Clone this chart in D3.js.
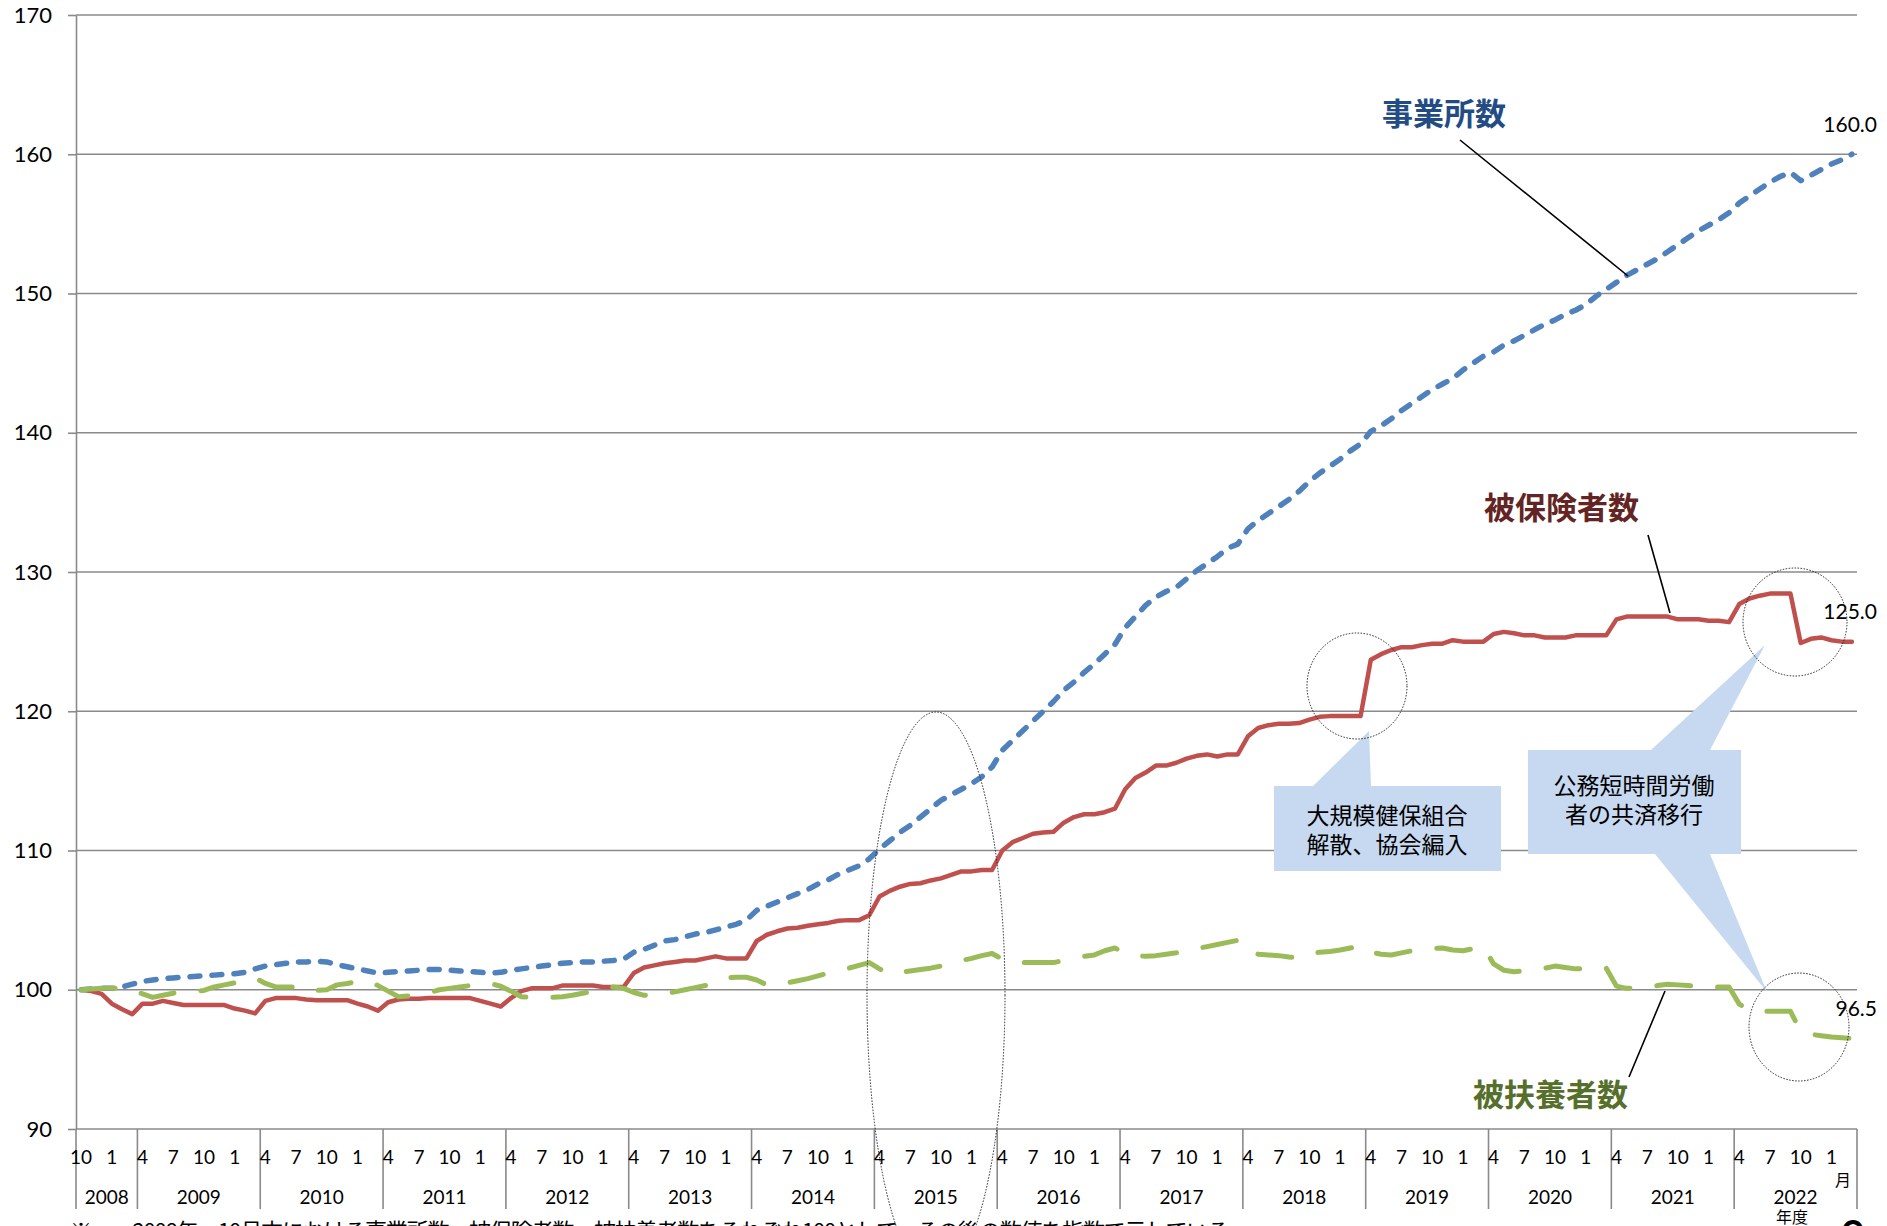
<!DOCTYPE html>
<html lang="ja">
<head>
<meta charset="utf-8">
<script src="https://cdn.jsdelivr.net/npm/d3@7"></script>
<style>
  body { margin: 0; background: #fff; }
  svg { display: block; }
</style>
</head>
<body>
<svg id="chart" width="1887" height="1226"></svg>
<script>
// fiscal year blocks on the category axis (FY2008 starts in October)
const fiscalYears = ['2008', '2009', '2010', '2011', '2012', '2013', '2014', '2015',
  '2016', '2017', '2018', '2019', '2020', '2021', '2022'];
const monthsPerYear = [6, 12, 12, 12, 12, 12, 12, 12, 12, 12, 12, 12, 12, 12, 12];
const labelMonths = [10, 1, 4, 7];
const yTicks = [90, 100, 110, 120, 130, 140, 150, 160, 170];

// index, 2008年10月末 = 100
const establishments = [
  100.0, 100.05, 100.1, 100.1, 100.2, 100.4,
  100.6, 100.7, 100.8, 100.85, 100.9, 100.95, 101.0, 101.05, 101.1, 101.15, 101.25, 101.5,
  101.7, 101.8, 101.9, 102.0, 102.0, 102.05, 102.0, 101.8, 101.65, 101.5, 101.35, 101.2,
  101.25, 101.3, 101.35, 101.4, 101.45, 101.45, 101.4, 101.35, 101.3, 101.25, 101.2, 101.25,
  101.4, 101.5, 101.6, 101.7, 101.8, 101.9, 101.95, 102.0, 102.0, 102.05, 102.1, 102.2,
  102.7, 102.9, 103.2, 103.5, 103.6, 103.8, 104.0, 104.1, 104.3, 104.5, 104.7, 105.0,
  105.7, 106.0, 106.3, 106.6, 106.9, 107.2, 107.6, 107.9, 108.3, 108.6, 108.9, 109.4,
  110.1, 110.7, 111.3, 111.8, 112.4, 113.0, 113.6, 114.0, 114.4, 114.8, 115.3, 116.0,
  117.2, 117.9, 118.6, 119.3, 120.0, 120.7, 121.5, 122.1, 122.8, 123.4, 124.1, 124.8,
  126.0, 126.8, 127.6, 128.2, 128.6, 128.9, 129.5, 130.1, 130.6, 131.1, 131.7, 132.0,
  133.1, 133.7, 134.2, 134.7, 135.2, 135.8, 136.5, 137.1, 137.6, 138.1, 138.7, 139.2,
  140.1, 140.5, 141.0, 141.6, 142.1, 142.6, 143.1, 143.5, 143.9, 144.5, 145.0, 145.5,
  145.8, 146.3, 146.6, 147.0, 147.4, 147.8, 148.1, 148.5, 148.8, 149.2, 149.8, 150.3,
  150.8, 151.3, 151.7, 152.1, 152.5, 153.0, 153.5, 154.0, 154.5, 154.9, 155.3, 155.8,
  156.5, 157.0, 157.5, 158.0, 158.4, 158.7, 158.1, 158.5, 158.9, 159.3, 159.6, 160.0
];
const insured = [
  100.0, 99.9, 99.7, 99.0, 98.6, 98.25,
  99.0, 99.0, 99.2, 99.05, 98.9, 98.9, 98.9, 98.9, 98.9, 98.65, 98.5, 98.3,
  99.2, 99.4, 99.4, 99.4, 99.3, 99.25, 99.25, 99.25, 99.25, 99.0, 98.8, 98.5,
  99.1, 99.3, 99.35, 99.35, 99.4, 99.4, 99.4, 99.4, 99.4, 99.2, 99.0, 98.8,
  99.4, 99.9, 100.1, 100.1, 100.1, 100.3, 100.3, 100.3, 100.3, 100.2, 100.2, 100.2,
  101.2, 101.6, 101.75, 101.9, 102.0, 102.1, 102.1, 102.25, 102.4, 102.25, 102.25, 102.25,
  103.5, 103.95, 104.2, 104.4, 104.45, 104.6, 104.7, 104.8, 104.95, 105.0, 105.0, 105.35,
  106.7, 107.1, 107.4, 107.6, 107.65, 107.85, 108.0, 108.25, 108.5, 108.5, 108.6, 108.6,
  110.0, 110.6, 110.9, 111.2, 111.3, 111.35, 112.0, 112.4, 112.6, 112.6, 112.75, 113.0,
  114.4, 115.2, 115.6, 116.1, 116.1, 116.3, 116.6, 116.8, 116.9, 116.75, 116.9, 116.9,
  118.2, 118.8, 119.0, 119.1, 119.1, 119.15, 119.4, 119.6, 119.65, 119.65, 119.65, 119.65,
  123.7, 124.1, 124.4, 124.6, 124.6, 124.75, 124.85, 124.85, 125.1, 125.0, 125.0, 125.0,
  125.55, 125.7, 125.6, 125.45, 125.45, 125.3, 125.3, 125.3, 125.45, 125.45, 125.45, 125.45,
  126.6, 126.8, 126.8, 126.8, 126.8, 126.8, 126.6, 126.6, 126.6, 126.5, 126.5, 126.4,
  127.7, 128.1, 128.3, 128.45, 128.45, 128.45, 124.9, 125.2, 125.3, 125.1, 125.0, 125.0
];
const dependents = [
  100.0, 100.05, 100.1, 100.1, 100.1, 100.05,
  99.7, 99.45, 99.6, 99.75, 99.85, 99.9, 99.95, 100.2, 100.35, 100.5, 100.75, 100.85,
  100.45, 100.2, 100.2, 100.2, 99.9, 99.95, 100.0, 100.35, 100.45, 100.6, 100.65, 100.3,
  99.9, 99.5, 99.55, 99.65, 99.8, 100.0, 100.1, 100.2, 100.3, 100.4, 100.45, 100.25,
  99.9, 99.5, 99.45, 99.4, 99.45, 99.5, 99.6, 99.75, 99.9, 100.15, 100.2, 100.1,
  99.8, 99.6, 99.65, 99.7, 99.85, 100.0, 100.15, 100.3, 100.45, 100.85, 100.9, 100.9,
  100.7, 100.35, 100.35, 100.5, 100.65, 100.8, 101.0, 101.2, 101.4, 101.55, 101.75, 101.95,
  101.5, 101.1, 101.25, 101.35, 101.45, 101.55, 101.7, 101.95, 102.1, 102.25, 102.45, 102.6,
  102.2, 101.95, 101.95, 101.95, 101.95, 101.95, 102.1, 102.25, 102.4, 102.5, 102.8, 103.0,
  102.6, 102.45, 102.4, 102.45, 102.55, 102.65, 102.8, 102.95, 103.1, 103.25, 103.4, 103.55,
  102.75, 102.55, 102.5, 102.45, 102.35, 102.3, 102.6, 102.7, 102.75, 102.85, 103.0, 103.15,
  102.7, 102.55, 102.5, 102.65, 102.8, 102.9, 102.95, 103.0, 102.85, 102.8, 102.95, 103.1,
  101.85, 101.4, 101.3, 101.35, 101.4, 101.55, 101.7, 101.6, 101.5, 101.5, 101.55, 101.55,
  100.26, 100.1, 100.15, 100.2, 100.3, 100.4, 100.35, 100.3, 100.25, 100.2, 100.2, 100.2,
  98.97, 98.5, 98.45, 98.45, 98.45, 98.45, 97.0, 96.8, 96.7, 96.6, 96.55, 96.5
];

const seriesNames = ['事業所数', '被保険者数', '被扶養者数'];
const endLabels = ['160.0', '125.0', '96.5'];
const calloutTexts = [['大規模健保組合', '解散、協会編入'], ['公務短時間労働', '者の共済移行']];
const footnote = '※　　2008年　10月末における事業所数、被保険者数、被扶養者数をそれぞれ100として、その後の数値を指数で示している。';

const svg = d3.select('#chart');
const plotLeft = 76, plotRight = 1857, plotTop = 15, plotBottom = 1129;
const numFont = 'Lato, "Open Sans", sans-serif';
const jpFont = '"Noto Sans CJK JP", "Noto Sans", sans-serif';
const gridColor = '#8a8a8a';

// categories: one per month
const categories = [];
fiscalYears.forEach((fy, i) => {
  const n = monthsPerYear[i];
  const first = 4 + (12 - n);
  for (let k = 0; k < n; k++) {
    categories.push({ fy: fy, month: ((first - 1 + k) % 12) + 1 });
  }
});

const x = d3.scaleBand()
  .domain(d3.range(categories.length))
  .range([plotLeft, plotRight])
  .paddingInner(0)
  .paddingOuter(0);
const xc = i => x(i) + x.bandwidth() / 2;

const y = d3.scaleLinear().domain([90, 170]).range([plotBottom, plotTop]);

// gridlines
svg.append('g')
  .selectAll('line')
  .data(yTicks)
  .enter()
  .append('line')
  .attr('x1', plotLeft)
  .attr('x2', plotRight)
  .attr('y1', d => y(d))
  .attr('y2', d => y(d))
  .style('stroke', gridColor)
  .style('stroke-width', 1.6);

// y axis
const yAxis = svg.append('g')
  .attr('transform', `translate(${plotLeft},0)`)
  .call(d3.axisLeft(y).tickValues(yTicks).tickSize(8).tickSizeOuter(0).tickPadding(16));
yAxis.select('.domain').style('stroke', gridColor).style('stroke-width', 1.6);
yAxis.selectAll('.tick line').style('stroke', gridColor).style('stroke-width', 1.6);
yAxis.selectAll('.tick text')
  .style('font-family', numFont)
  .style('font-size', '22px')
  .style('fill', '#000');

// category axis: year separators, month labels, year labels
const boundaries = [0];
monthsPerYear.forEach(n => boundaries.push(boundaries[boundaries.length - 1] + n));
const boundaryX = b => (b >= categories.length ? plotRight : x(b));

svg.append('g')
  .selectAll('line')
  .data(boundaries)
  .enter()
  .append('line')
  .attr('x1', d => boundaryX(d))
  .attr('x2', d => boundaryX(d))
  .attr('y1', plotBottom)
  .attr('y2', 1209)
  .style('stroke', gridColor)
  .style('stroke-width', 1.6);

svg.append('g')
  .selectAll('text')
  .data(categories.map((c, i) => ({ i: i, month: c.month })).filter(d => labelMonths.includes(d.month)))
  .enter()
  .append('text')
  .attr('x', d => xc(d.i))
  .attr('y', 1164)
  .attr('text-anchor', 'middle')
  .style('font-family', numFont)
  .style('font-size', '19px')
  .text(d => d.month);

svg.append('g')
  .selectAll('text')
  .data(fiscalYears)
  .enter()
  .append('text')
  .attr('x', (d, i) => (boundaryX(boundaries[i]) + boundaryX(boundaries[i + 1])) / 2)
  .attr('y', 1204)
  .attr('text-anchor', 'middle')
  .style('font-family', numFont)
  .style('font-size', '19px')
  .text(d => d);

svg.append('text')
  .attr('x', 1843).attr('y', 1186)
  .attr('text-anchor', 'middle')
  .style('font-family', jpFont).style('font-size', '16px')
  .text('月');
svg.append('text')
  .attr('x', 1792).attr('y', 1223)
  .attr('text-anchor', 'middle')
  .style('font-family', jpFont).style('font-size', '16px')
  .text('年度');

// lines
const line = d3.line().x((d, i) => xc(i)).y(d => y(d));
const series = [
  { values: establishments, color: '#4F81BD', width: 5.5, dash: '10,12' },
  { values: insured, color: '#C0504D', width: 4.5, dash: null },
  { values: dependents, color: '#9BBB59', width: 5, dash: '34,27' }
];
series.forEach(s => {
  svg.append('path')
    .datum(s.values)
    .attr('d', line)
    .style('fill', 'none')
    .style('stroke', s.color)
    .style('stroke-width', s.width)
    .style('stroke-linejoin', 'round')
    .style('stroke-linecap', 'round')
    .style('stroke-dasharray', s.dash);
});

// value labels at the last point
series.forEach((s, k) => {
  const last = s.values.length - 1;
  svg.append('text')
    .attr('x', 1877)
    .attr('y', y(s.values[last]) - 30)
    .attr('dy', '0.35em')
    .attr('text-anchor', 'end')
    .style('font-family', numFont)
    .style('font-size', '21px')
    .text(endLabels[k]);
});

// callouts (drawn before ellipses)
const callouts = [
  { x0: 1274, y0: 786, x1: 1501, y1: 871, tips: [[1313, 1371, 'top', 1369, 731]], tx: 1387, ty: [816, 845] },
  { x0: 1528, y0: 750, x1: 1741, y1: 854,
    tips: [[1651, 1710, 'top', 1765, 645], [1655, 1710, 'bottom', 1767, 992]], tx: 1634, ty: [786, 815] }
];
callouts.forEach((c, k) => {
  let p = `M${c.x0},${c.y0}`;
  const topTip = c.tips.find(t => t[2] === 'top');
  const botTip = c.tips.find(t => t[2] === 'bottom');
  if (topTip) p += ` L${topTip[0]},${c.y0} L${topTip[3]},${topTip[4]} L${topTip[1]},${c.y0}`;
  p += ` L${c.x1},${c.y0} L${c.x1},${c.y1}`;
  if (botTip) p += ` L${botTip[1]},${c.y1} L${botTip[3]},${botTip[4]} L${botTip[0]},${c.y1}`;
  p += ` L${c.x0},${c.y1} Z`;
  svg.append('path').attr('d', p).style('fill', '#C6D9F1');
  calloutTexts[k].forEach((t, j) => {
    svg.append('text')
      .attr('x', c.tx)
      .attr('y', c.ty[j])
      .attr('dy', '0.36em')
      .attr('text-anchor', 'middle')
      .style('font-family', jpFont)
      .style('font-size', '23px')
      .style('fill', '#000')
      .text(t);
  });
});

// dotted ellipses
const ellipses = [
  { cx: 936, cy: 995, rx: 69, ry: 283 },
  { cx: 1357, cy: 686, rx: 50, ry: 53 },
  { cx: 1795, cy: 622, rx: 52, ry: 54 },
  { cx: 1799, cy: 1027, rx: 50, ry: 54 }
];
svg.append('g')
  .selectAll('ellipse')
  .data(ellipses)
  .enter()
  .append('ellipse')
  .attr('cx', d => d.cx)
  .attr('cy', d => d.cy)
  .attr('rx', d => d.rx)
  .attr('ry', d => d.ry)
  .style('fill', 'none')
  .style('stroke', '#222')
  .style('stroke-width', 1)
  .style('stroke-dasharray', '1.5,1.5');

// series name labels with leader lines
const nameLabels = [
  { x: 1382, y: 114, color: '#244C84', lx1: 1460, ly1: 140, lx2: 1628, ly2: 276 },
  { x: 1484, y: 508, color: '#632523', lx1: 1648, ly1: 535, lx2: 1670, ly2: 613 },
  { x: 1473, y: 1095, color: '#56702C', lx1: 1629, ly1: 1077, lx2: 1665, ly2: 991 }
];
nameLabels.forEach((d, k) => {
  svg.append('line')
    .attr('x1', d.lx1).attr('y1', d.ly1)
    .attr('x2', d.lx2).attr('y2', d.ly2)
    .style('stroke', '#000')
    .style('stroke-width', 1.6);
  svg.append('text')
    .attr('x', d.x)
    .attr('y', d.y)
    .attr('dy', '0.36em')
    .style('font-family', jpFont)
    .style('font-size', '31px')
    .style('font-weight', 'bold')
    .style('fill', d.color)
    .text(seriesNames[k]);
});

// footnote, cut by the bottom edge of the picture
svg.append('text')
  .attr('x', 70)
  .attr('y', 1239)
  .attr('textLength', 1180)
  .attr('lengthAdjust', 'spacing')
  .style('font-family', jpFont)
  .style('font-size', '22px')
  .text(footnote);

svg.append('text')
  .attr('x', 1853)
  .attr('y', 1249)
  .attr('text-anchor', 'middle')
  .style('font-family', numFont)
  .style('font-size', '40px')
  .style('font-weight', 'bold')
  .text('9');
</script>
</body>
</html>
